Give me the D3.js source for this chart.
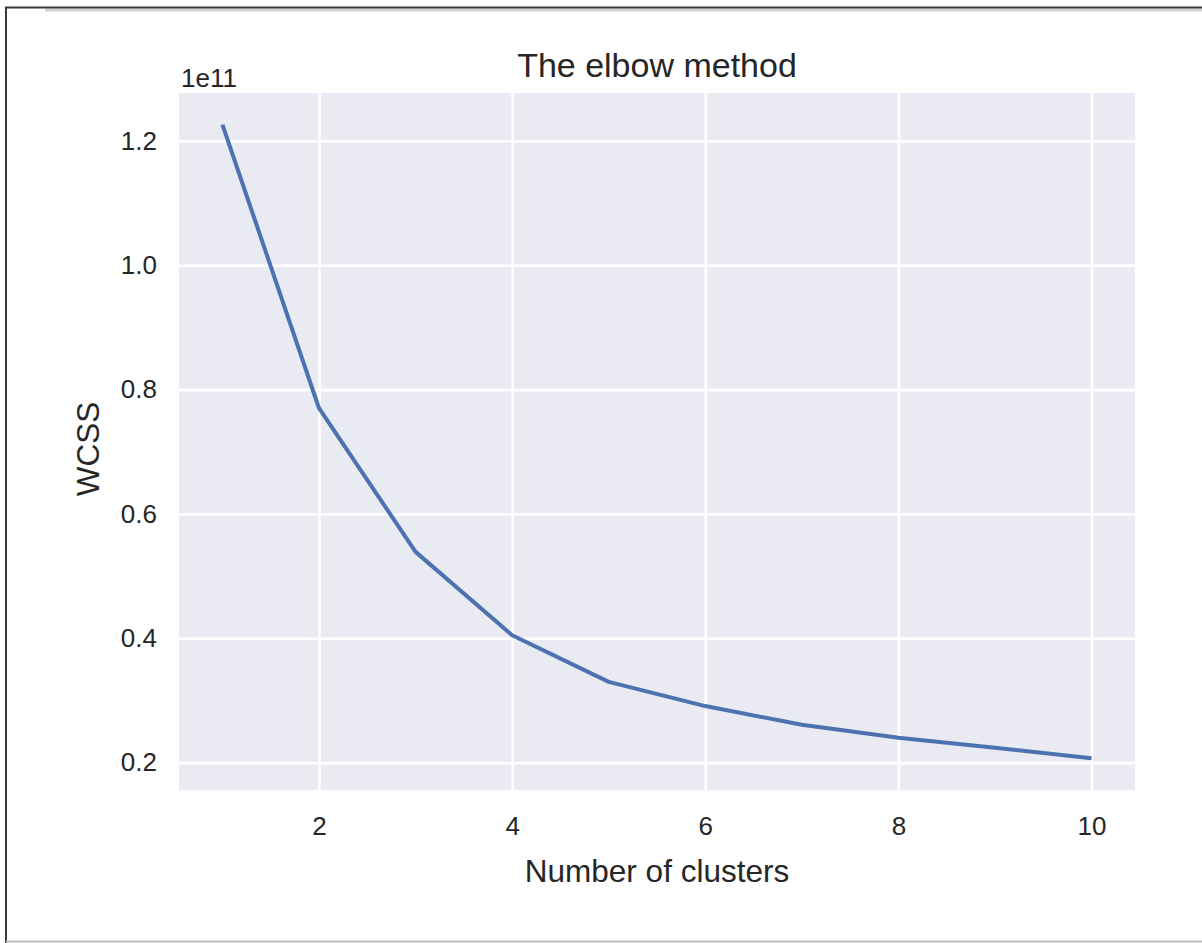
<!DOCTYPE html>
<html>
<head>
<meta charset="utf-8">
<script src="https://cdn.jsdelivr.net/npm/d3@7"></script>
<style>
  html, body { margin: 0; padding: 0; background: #ffffff; }
  svg { display: block; }
  text { font-family: "Liberation Sans", Arial, Helvetica, sans-serif; fill: #262626; }
</style>
</head>
<body>
<svg id="chart" width="1202" height="943"></svg>
<script>
// ---- data ----
const clusters = [1, 2, 3, 4, 5, 6, 7, 8, 9, 10];
const wcss = [1.226e11, 0.770e11, 0.539e11, 0.405e11, 0.330e11, 0.291e11, 0.261e11, 0.240e11, 0.224e11, 0.207e11];
const xTicks = [2, 4, 6, 8, 10];
const yTicks = [0.2e11, 0.4e11, 0.6e11, 0.8e11, 1.0e11, 1.2e11];
const titleText = "The elbow method";
const xLabelText = "Number of clusters";
const yLabelText = "WCSS";
const offsetText = "1e11";

// ---- layout ----
const svg = d3.select("#chart");
const W = 1202, H = 943;
const plot = { left: 179, right: 1135, top: 93, bottom: 790 };

// screenshot frame
svg.append("rect").attr("x", 0).attr("y", 0).attr("width", W).attr("height", H).attr("fill", "#ffffff");
svg.append("line").attr("x1", 45).attr("x2", W).attr("y1", 10).attr("y2", 10).attr("stroke", "#d0d0d0").attr("stroke-width", 3);
svg.append("line").attr("x1", 5).attr("x2", W).attr("y1", 7.5).attr("y2", 7.5).attr("stroke", "#3a3a3a").attr("stroke-width", 2);
svg.append("line").attr("x1", 6).attr("x2", 6).attr("y1", 7).attr("y2", H).attr("stroke", "#3a3a3a").attr("stroke-width", 2);
svg.append("line").attr("x1", 6).attr("x2", W).attr("y1", 941.5).attr("y2", 941.5).attr("stroke", "#bdbdbd").attr("stroke-width", 2);

// scales with matplotlib-like 5% margins
const xExt = d3.extent(clusters), xPad = (xExt[1] - xExt[0]) * 0.05;
const yExt = d3.extent(wcss), yPad = (yExt[1] - yExt[0]) * 0.05;
const x = d3.scaleLinear().domain([xExt[0] - xPad, xExt[1] + xPad]).range([plot.left, plot.right]);
const y = d3.scaleLinear().domain([yExt[0] - yPad, yExt[1] + yPad]).range([plot.bottom, plot.top]);

// background
svg.append("rect")
  .attr("x", plot.left).attr("y", plot.top)
  .attr("width", plot.right - plot.left).attr("height", plot.bottom - plot.top)
  .attr("fill", "#EAEAF2");

// grid via axes
const gx = svg.append("g").attr("transform", `translate(0,${plot.bottom})`)
  .call(d3.axisBottom(x).tickValues(xTicks).tickSize(-(plot.bottom - plot.top)).tickFormat(d3.format("d")).tickPadding(27));
gx.select(".domain").remove();
gx.selectAll(".tick line").attr("stroke", "#ffffff").attr("stroke-width", 2.6);
gx.selectAll(".tick text").attr("font-size", 26).attr("fill", "#262626").attr("dy", "0.71em")
  .attr("font-family", "Liberation Sans, Arial, sans-serif");

const gy = svg.append("g").attr("transform", `translate(${plot.left},0)`)
  .call(d3.axisLeft(y).tickValues(yTicks).tickSize(-(plot.right - plot.left)).tickFormat(d => (d / 1e11).toFixed(1)).tickPadding(22));
gy.select(".domain").remove();
gy.selectAll(".tick line").attr("stroke", "#ffffff").attr("stroke-width", 2.6);
gy.selectAll(".tick text").attr("font-size", 26).attr("fill", "#262626")
  .attr("font-family", "Liberation Sans, Arial, sans-serif");

// line
const line = d3.line().x((d, i) => x(clusters[i])).y(d => y(d));
svg.append("path")
  .datum(wcss)
  .attr("d", line)
  .attr("fill", "none")
  .attr("stroke", "#4C72B0")
  .attr("stroke-width", 4)
  .attr("stroke-linejoin", "round")
  .attr("stroke-linecap", "butt");

// texts
svg.append("text").attr("x", (plot.left + plot.right) / 2).attr("y", 77)
  .attr("text-anchor", "middle").attr("font-size", 34).text(titleText);
svg.append("text").attr("x", (plot.left + plot.right) / 2).attr("y", 882)
  .attr("text-anchor", "middle").attr("font-size", 31.5).text(xLabelText);
svg.append("text").attr("transform", "translate(99,449) rotate(-90)")
  .attr("text-anchor", "middle").attr("font-size", 31.5).text(yLabelText);
svg.append("text").attr("x", 181).attr("y", 87).attr("font-size", 26).text(offsetText);
</script>
</body>
</html>
